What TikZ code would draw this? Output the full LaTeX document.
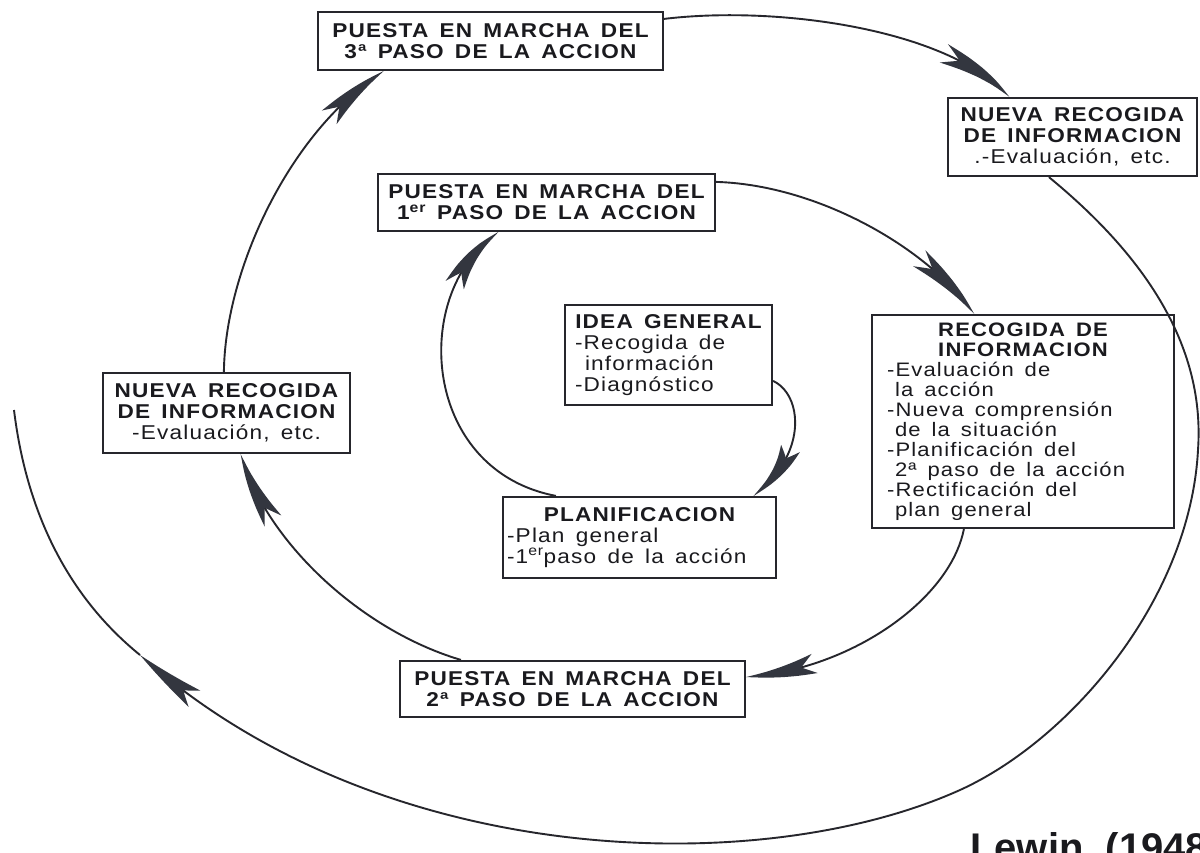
\documentclass[tikz,border=0pt]{standalone}
\usepackage{fontspec}
\setmainfont{Liberation Sans}[FakeStretch=1.13,LetterSpace=6,WordSpace=1.5]
\newfontfamily\lewinfont{Liberation Sans}
\usetikzlibrary{arrows.meta,bending,calc}
\definecolor{ink}{HTML}{1A1A1E}
\definecolor{linecol}{HTML}{26262C}
\definecolor{wedge}{HTML}{33363F}
\newcommand\LL[2]{\makebox[#1][l]{#2}}
\newcommand\CC[2]{\makebox[#1][c]{#2}}
\begin{document}
\begin{tikzpicture}[x=1pt,y=-1pt,
  box/.style={draw=linecol, line width=2.2pt, inner sep=0pt, fill=white, align=center,
    font=\fontsize{20}{21}\selectfont, text=ink},
  spiral/.style={draw=linecol, line width=1.9pt,
    -{Stealth[length=70pt,width=20pt,inset=14pt,bend,fill=wedge,color=wedge]}},
  plain/.style={draw=linecol, line width=1.9pt}]
\useasboundingbox[fill=white] (0,0) rectangle (1200,852);

% boxes
\node[box, minimum width=345pt, minimum height=58pt] (p3) at (490.5,41)
  {\bfseries PUESTA EN MARCHA DEL\\\bfseries 3ª PASO DE LA ACCION};
\node[box, minimum width=249pt, minimum height=78pt] (nrt) at (1072.5,137)
  {\bfseries NUEVA RECOGIDA\\\bfseries DE INFORMACION\\.-Evaluación, etc.};
\node[box, minimum width=337pt, minimum height=57pt] (p1) at (546.5,202.5)
  {\bfseries PUESTA EN MARCHA DEL\\\bfseries 1\textsuperscript{er} PASO DE LA ACCION};
\node[box, minimum width=207pt, minimum height=100pt] (idea) at (668.5,355)
  {\CC{187pt}{\bfseries IDEA GENERAL}\\\LL{187pt}{-Recogida de}\\\LL{187pt}{\hspace*{10pt}información}\\\LL{187pt}{-Diagnóstico}};
\node[box, minimum width=302pt, minimum height=213pt, font=\fontsize{19.5}{20}\selectfont] (rec) at (1023,421.5)
  {\CC{272pt}{\bfseries RECOGIDA DE}\\\CC{272pt}{\bfseries INFORMACION}\\
   \LL{272pt}{-Evaluación de}\\\LL{272pt}{\hspace*{8pt}la acción}\\
   \LL{272pt}{-Nueva comprensión}\\\LL{272pt}{\hspace*{8pt}de la situación}\\
   \LL{272pt}{-Planificación del}\\\LL{272pt}{\hspace*{8pt}2ª paso de la acción}\\
   \LL{272pt}{-Rectificación del}\\\LL{272pt}{\hspace*{8pt}plan general}};
\node[box, minimum width=247pt, minimum height=80pt] (nrl) at (226.5,413)
  {\bfseries NUEVA RECOGIDA\\\bfseries DE INFORMACION\\-Evaluación, etc.};
\node[box, minimum width=273pt, minimum height=81pt] (plan) at (639.5,537.5)
  {\CC{265pt}{\bfseries PLANIFICACION}\\\LL{265pt}{-Plan general}\\\LL{265pt}{-1\textsuperscript{er}paso de la acción}};
\node[box, minimum width=345pt, minimum height=56pt] (p2) at (572.5,689)
  {\bfseries PUESTA EN MARCHA DEL\\\bfseries 2ª PASO DE LA ACCION};

\node[anchor=base west, inner sep=0pt, text=ink, font=\lewinfont\bfseries\fontsize{40}{40}\selectfont]
  (lewin) at (970,861) {Lewin~~(1948)};

% connectors
\coordinate (w1) at (140,655);
\coordinate (tail) at (14,410);
\draw[spiral] ($(idea.north east)+(0,77)$) .. controls (803,395) and (808,455) .. ($(plan.north east)+(-24,0)$);
\draw[spiral] ($(plan.north west)+(54,0)$) .. controls (420,470) and (410,290) .. ($(p1.south west)+(122,0)$);
\draw[spiral] ($(p1.north east)+(0,9)$) .. controls (820,185) and (930,250) .. ($(rec.north west)+(103,0)$);
\draw[spiral] ($(rec.south west)+(93,0)$) .. controls (950,600) and (850,670) .. ($(p2.north east)+(0,17)$);
\draw[spiral] ($(p2.north west)+(62,0)$) .. controls (360,630) and (265,540) .. ($(nrl.south west)+(139,0)$);
\draw[spiral] ($(nrl.north west)+(122,0)$) .. controls (225,270) and (290,130) .. ($(p3.south west)+(67,0)$);
\draw[spiral] ($(p3.north east)+(0,8)$) .. controls (780,5) and (950,30) .. ($(nrt.north west)+(62,0)$);
\draw[spiral] ($(nrt.south west)+(102,0)$) .. controls (1150,260) and (1205,350) .. (1198,450)
   .. controls (1190,600) and (1070,740) .. (960,790)
   .. controls (760,880) and (380,870) .. (w1);
\draw[plain] (w1) .. controls (60,590) and (25,500) .. (tail);
\end{tikzpicture}
\end{document}
